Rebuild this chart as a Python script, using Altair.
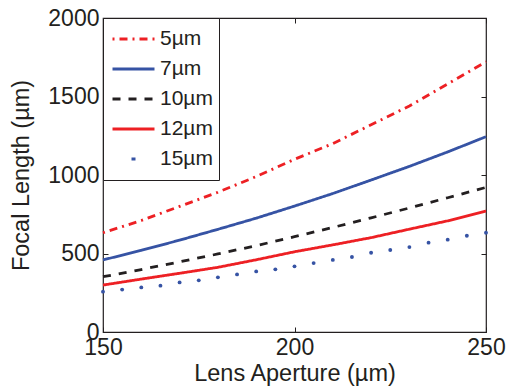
import altair as alt
import pandas as pd

series = ["5µm", "7µm", "10µm", "12µm", "15µm"]

aperture10 = [150, 160, 170, 180, 190, 200, 210, 220, 230, 240, 250]
focal_5 = [632, 710, 800, 890, 990, 1100, 1200, 1320, 1440, 1580, 1721]
focal_7 = [459, 520, 585, 654, 725, 802, 882, 968, 1055, 1147, 1244]
focal_10 = [352, 398, 447, 497, 550, 607, 666, 727, 790, 855, 921]
focal_12 = [299, 337, 374, 412, 460, 511, 555, 601, 655, 708, 771]

aperture5 = [150, 155, 160, 165, 170, 175, 180, 185, 190, 195, 200,
             205, 210, 215, 220, 225, 230, 235, 240, 245, 250]
focal_15 = [257, 270, 284, 295, 316, 329, 348, 367, 386, 399, 418,
            439, 459, 478, 505, 522, 541, 569, 588, 613, 632]

colors = ["#ED2024", "#3653A4", "#231F20", "#ED2024", "#3653A4"]
dashes = [[2, 5, 8, 5], [1, 0], [8, 8], [1, 0], [0, 19, 4, 40]]
widths = [2.8, 2.8, 2.8, 2.8, 4.5]

rows = []
for name, vals in zip(series[:4], [focal_5, focal_7, focal_10, focal_12]):
    for a, v in zip(aperture10, vals):
        rows.append({"aperture": a, "focal": v, "series": name})
lines_df = pd.DataFrame(rows)
dots_df = pd.DataFrame({"aperture": aperture5, "focal": focal_15})

FONT = "Liberation Sans"
INK = "#231F20"

xscale = alt.Scale(domain=[150, 250], nice=False, zero=False)
yscale = alt.Scale(domain=[0, 2000], nice=False)

legend = alt.Legend(
    orient="none", legendX=0, legendY=0, title=None,
    symbolType="stroke", symbolSize=1764, symbolOffset=2,
    labelFontSize=21, labelFont=FONT, labelColor=INK, labelOffset=4,
    strokeColor=INK, fillColor="white", padding=6, rowPadding=0,
    clipHeight=30,
)

common_axis = dict(domain=False, tickSize=5, offset=-5, tickColor=INK, format="d",
                   labelFont=FONT, labelFontSize=23, labelColor=INK,
                   labelFlush=False, labelOverlap=False,
                   titleFont=FONT, titleFontSize=23.5, titleColor=INK,
                   titleFontWeight="normal", grid=False)

lines = alt.Chart(lines_df).mark_line().encode(
    x=alt.X("aperture:Q", scale=xscale,
            axis=alt.Axis(values=[150, 200, 250], title="Lens Aperture (µm)",
                          orient="bottom", labelPadding=4, titlePadding=2,
                          **common_axis)),
    y=alt.Y("focal:Q", scale=yscale,
            axis=alt.Axis(values=[0, 500, 1000, 1500, 2000], title="Focal Length (µm)",
                          orient="left", labelPadding=4, titlePadding=14,
                          **common_axis)),
    color=alt.Color("series:N", scale=alt.Scale(domain=series, range=colors), legend=legend),
    strokeDash=alt.StrokeDash("series:N", scale=alt.Scale(domain=series, range=dashes), legend=legend),
    strokeWidth=alt.StrokeWidth("series:N", scale=alt.Scale(domain=series, range=widths), legend=legend),
)

dots = alt.Chart(dots_df).mark_circle(size=15, color="#3653A4", opacity=1).encode(
    x=alt.X("aperture:Q", scale=xscale, axis=None),
    y=alt.Y("focal:Q", scale=yscale, axis=None),
)

mirror_axis = dict(domain=False, tickSize=5, offset=-5, tickColor=INK,
                   labels=False, title=None, grid=False)
mirror = alt.Chart(lines_df).mark_line(opacity=0).encode(
    x=alt.X("aperture:Q", scale=xscale,
            axis=alt.Axis(values=[150, 200, 250], orient="top", **mirror_axis)),
    y=alt.Y("focal:Q", scale=yscale,
            axis=alt.Axis(values=[0, 500, 1000, 1500, 2000], orient="right", **mirror_axis)),
    detail="series:N",
)

chart = alt.layer(lines, dots, mirror).resolve_axis(
    x="independent", y="independent"
).properties(
    width=383, height=314,
    padding={"left": 103, "top": 18, "right": 22, "bottom": 59},
    autosize=alt.AutoSizeParams(type="none"),
    background="white",
).configure_view(stroke=INK, strokeWidth=1.2)

chart.save("out.html", embed_options={"renderer": "svg", "actions": False})
